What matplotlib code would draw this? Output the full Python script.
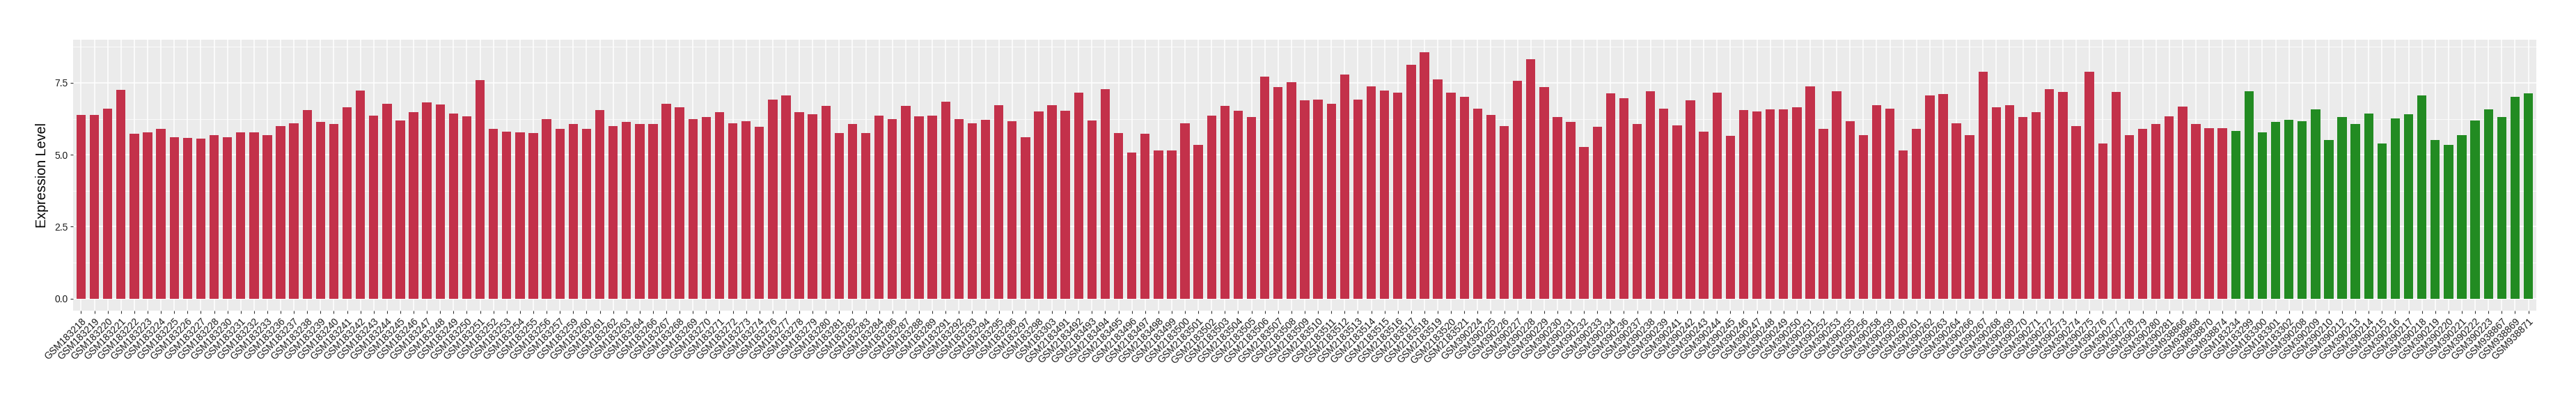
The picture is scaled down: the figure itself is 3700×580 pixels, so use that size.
import numpy as np
import matplotlib
matplotlib.use("Agg")
import matplotlib.pyplot as plt

plt.rcParams["font.family"] = ["Liberation Sans", "DejaVu Sans"]

# ===== DANE =====

# grupa 1 (czerwona)
samples_a = (
    [f"GSM1832{n}" for n in [18, 19, 20, 21, 22, 23, 24, 25, 26, 27, 28, 30, 31, 32, 33,
                             36, 37, 38, 39, 40, 41, 42, 43, 44, 45, 46, 47, 48, 49, 50,
                             51, 52, 53, 54, 55, 56, 57, 59, 60, 61, 62, 63, 64, 66, 67,
                             68, 69, 70, 71, 72, 73, 74, 76, 77, 78, 79, 80, 81, 82, 83,
                             84, 86, 87, 88, 89, 91, 92, 93, 94, 95, 96, 97, 98]]
    + ["GSM183303"]
    + [f"GSM2183{n}" for n in range(491, 522)]
    + [f"GSM390{n}" for n in [224, 225, 226, 227, 228, 229, 230, 231, 232, 233, 234, 236,
                              237, 238, 239, 241, 242, 243, 244, 245, 246, 247, 248, 249,
                              250, 251, 252, 253, 255, 256, 258, 259, 260, 261, 262, 263,
                              264, 266, 267, 268, 269, 270, 271, 272, 273, 274, 275, 276,
                              277, 278, 279, 280, 281]]
    + ["GSM938866", "GSM938868", "GSM938870", "GSM938874"]
)

values_a = [
    6.39, 6.39, 6.61, 7.26, 5.72, 5.79, 5.91, 5.62, 5.59, 5.57, 5.69, 5.62, 5.79, 5.79, 5.69,
    6.00, 6.10, 6.56, 6.13, 6.06, 6.65, 7.23, 6.37, 6.78, 6.18, 6.47, 6.82, 6.75, 6.44, 6.34,
    7.60, 5.89, 5.81, 5.79, 5.76, 6.24, 5.91, 6.06, 5.89, 6.56, 6.00, 6.13, 6.06, 6.06, 6.78,
    6.64, 6.24, 6.32, 6.47, 6.10, 6.17, 5.96, 6.92, 7.05, 6.47, 6.41, 6.71, 5.76, 6.07, 5.76,
    6.37, 6.24, 6.71, 6.34, 6.37, 6.85, 6.24, 6.10, 6.22, 6.72, 6.17, 5.62, 6.51,
    6.72,
    6.54, 7.16, 6.20, 7.29, 5.76, 5.07, 5.74, 5.14, 5.16, 6.10, 5.35, 6.37, 6.71, 6.54, 6.32,
    7.71, 7.36, 7.53, 6.89, 6.92, 6.78, 7.79, 6.92, 7.38, 7.23, 7.16, 8.12, 8.56, 7.63, 7.16,
    7.02,
    6.61, 6.39, 6.00, 7.57, 8.32, 7.36, 6.32, 6.13, 5.26, 5.96, 7.13, 6.97, 6.06, 7.21, 6.61,
    6.03, 6.88, 5.81, 7.16, 5.65, 6.56, 6.51, 6.58, 6.58, 6.65, 7.38, 5.91, 7.21, 6.17, 5.69,
    6.72, 6.61, 5.16, 5.89, 7.05, 7.12, 6.10, 5.67, 7.88, 6.64, 6.72, 6.30, 6.48, 7.29, 7.19,
    6.00, 7.88, 5.40, 7.19, 5.67, 5.91, 6.06, 6.34,
    6.68, 6.07, 5.93, 5.93,
]

# grupa 2 (zielona)
samples_b = (
    ["GSM183234", "GSM183299", "GSM183300", "GSM183301", "GSM183302"]
    + [f"GSM390{n}" for n in [208, 209, 210, 212, 213, 214, 215, 216, 217, 218, 219, 220,
                              221, 222, 223]]
    + ["GSM938867", "GSM938869", "GSM938871"]
)

values_b = [
    5.83, 7.21, 5.79, 6.13, 6.22,
    6.17, 6.58, 5.50, 6.30, 6.07, 6.44, 5.38, 6.27, 6.41, 7.06, 5.50, 5.35, 5.67, 6.20, 6.58,
    6.32, 7.02, 7.13,
]

color_a = "#C3314A"
color_b = "#228B22"

# ===== WYKRES =====

labels = samples_a + samples_b
values = np.array(values_a + values_b)
colors = [color_a] * len(values_a) + [color_b] * len(values_b)
x = np.arange(len(labels))

fig = plt.figure(figsize=(37, 5.8), dpi=100)
ax = fig.add_axes([0.02838, 0.2305, 0.95621, 0.6705])

ax.set_facecolor("#EBEBEB")
for s in ax.spines.values():
    s.set_visible(False)

ymax = values.max() * 1.05
ymin = -values.max() * 0.05
ax.set_ylim(ymin, ymax)
ax.set_xlim(-0.6, len(labels) - 1 + 0.6)

# siatka jak w ggplot
for yv in [1.25, 3.75, 6.25, 8.75]:
    ax.axhline(yv, color="white", lw=0.55, zorder=0)
for yv in [0, 2.5, 5, 7.5]:
    ax.axhline(yv, color="white", lw=1.1, zorder=0)
for xv in x:
    ax.axvline(xv, color="white", lw=1.1, zorder=0)

ax.bar(x, values, width=0.7, color=colors, zorder=2)

ax.set_yticks([0, 2.5, 5.0, 7.5])
ax.set_yticklabels(["0.0", "2.5", "5.0", "7.5"], fontsize=10, color="#1A1A1A")
ax.set_xticks(x)
ax.set_xticklabels(labels, rotation=45, ha="right", rotation_mode="anchor",
                   fontsize=10, color="#1A1A1A")
ax.tick_params(axis="both", length=3, width=0.8, color="#333333", pad=2.5)
ax.set_ylabel("Expression Level", fontsize=14.2, color="black", labelpad=6)

fig.savefig("out.png", dpi=100)
